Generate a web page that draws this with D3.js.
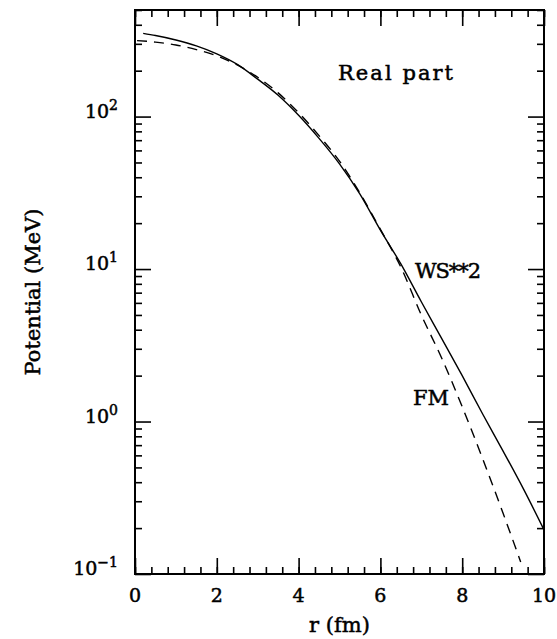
<!DOCTYPE html>
<html>
<head>
<meta charset="utf-8">
<script src="https://cdn.jsdelivr.net/npm/d3@7"></script>
<style>
  body { margin: 0; background: #fff; }
  text { font-family: "DejaVu Serif", serif; fill: #000; stroke: #000; stroke-width: 0.5px; }
</style>
</head>
<body>
<div id="chart"></div>
<script>
// WS**2 (solid) and FM (dashed) real potentials
const rWS = [0.2, 0.5, 1, 1.5, 2, 2.5, 3, 3.5, 4, 4.5, 5, 5.5, 6, 6.5, 7, 7.5, 8, 8.5, 9, 9.5, 10];
const vWS = [351, 340, 318, 291, 258, 220, 176, 138, 102, 72, 49, 31, 18, 10.8, 6.1, 3.5, 2.0, 1.12, 0.64, 0.36, 0.195];
const rFM = [0.05, 0.5, 1, 1.5, 2, 2.5, 3, 3.5, 4, 4.5, 5, 5.5, 6, 6.5, 7, 7.5, 8, 8.5, 9, 9.43];
const vFM = [315, 308, 295, 275, 250, 218, 181, 143, 106, 75, 51, 31.5, 18.2, 10.3, 5.0, 2.6, 1.25, 0.57, 0.25, 0.12];

const xMajor = [0, 2, 4, 6, 8, 10];
const yDecades = [0.1, 1, 10, 100];
const yExp = ["\u22121", "0", "1", "2"];

const width = 557, height = 639;
const margin = {left: 135, right: 13, top: 10, bottom: 65};

const svg = d3.select("#chart").append("svg")
    .attr("width", width)
    .attr("height", height);

const x = d3.scaleLinear()
    .domain([0, 10])
    .range([margin.left, width - margin.right]);
const y = d3.scaleLog()
    .domain([0.1, 500])
    .range([height - margin.bottom, margin.top]);

const xMinor = d3.range(0, 10.001, 0.4).map(d => +d.toFixed(1));
const yMinor = [];
yDecades.forEach(d => { for (let k = 2; k <= 9; k++) if (d * k <= 500) yMinor.push(d * k); });

const yB = height - margin.bottom, yT = margin.top;
const xL = margin.left, xR = width - margin.right;

// ticks, all pointing inwards
function ticks(axis, tr, vals, len) {
  const g = svg.append("g")
      .attr("transform", tr)
      .call(axis.tickValues(vals).tickSize(-len).tickFormat(""));
  g.select(".domain").remove();
  g.selectAll("line").attr("stroke", "#000").attr("stroke-width", 1.6);
}
ticks(d3.axisBottom(x), "translate(0," + yB + ")", xMajor, 16);
ticks(d3.axisBottom(x), "translate(0," + yB + ")", xMinor, 7);
ticks(d3.axisTop(x), "translate(0," + yT + ")", xMajor, 16);
ticks(d3.axisTop(x), "translate(0," + yT + ")", xMinor, 7);
ticks(d3.axisLeft(y), "translate(" + xL + ",0)", yDecades, 16);
ticks(d3.axisLeft(y), "translate(" + xL + ",0)", yMinor, 7);
ticks(d3.axisRight(y), "translate(" + xR + ",0)", yDecades, 16);
ticks(d3.axisRight(y), "translate(" + xR + ",0)", yMinor, 7);

// frame
svg.append("rect")
    .attr("x", xL).attr("y", yT)
    .attr("width", xR - xL).attr("height", yB - yT)
    .attr("fill", "none").attr("stroke", "#000").attr("stroke-width", 2);

// x tick labels
svg.append("g").selectAll("text")
    .data(xMajor)
    .join("text")
    .attr("x", d => x(d))
    .attr("y", 602)
    .attr("text-anchor", "middle")
    .attr("font-size", 19)
    .text(d => d);

// y tick labels 10^n
const yl = svg.append("g").selectAll("text")
    .data(yDecades)
    .join("text")
    .attr("x", 118)
    .attr("y", d => y(d) + 1)
    .attr("text-anchor", "end")
    .attr("font-size", 19);
yl.append("tspan").text("10");
yl.append("tspan")
    .attr("dy", -8)
    .attr("font-size", 14)
    .text((d, i) => yExp[i]);

// curves
const line = d3.line()
    .x(d => x(d[0]))
    .y(d => y(d[1]))
    .curve(d3.curveMonotoneX);

svg.append("path")
    .datum(d3.zip(rWS, vWS))
    .attr("fill", "none")
    .attr("stroke", "#000")
    .attr("stroke-width", 1.4)
    .attr("d", line);

svg.append("path")
    .datum(d3.zip(rFM, vFM))
    .attr("fill", "none")
    .attr("stroke", "#000")
    .attr("stroke-width", 1.4)
    .attr("stroke-dasharray", "10,7")
    .attr("d", line);

// labels
svg.append("text").attr("x", 338).attr("y", 80).attr("font-size", 21)
    .attr("textLength", 115).attr("lengthAdjust", "spacing").text("Real part");
svg.append("text").attr("x", 415).attr("y", 278).attr("font-size", 21)
    .attr("textLength", 66).attr("lengthAdjust", "spacing").text("WS**2");
svg.append("text").attr("x", 413).attr("y", 405).attr("font-size", 21).text("FM");

svg.append("text")
    .attr("x", (xL + xR) / 2)
    .attr("y", 632)
    .attr("text-anchor", "middle")
    .attr("font-size", 21)
    .text("r (fm)");

svg.append("text")
    .attr("transform", "translate(40," + 292 + ") rotate(-90)")
    .attr("text-anchor", "middle")
    .attr("font-size", 21)
    .text("Potential (MeV)");
</script>
</body>
</html>
